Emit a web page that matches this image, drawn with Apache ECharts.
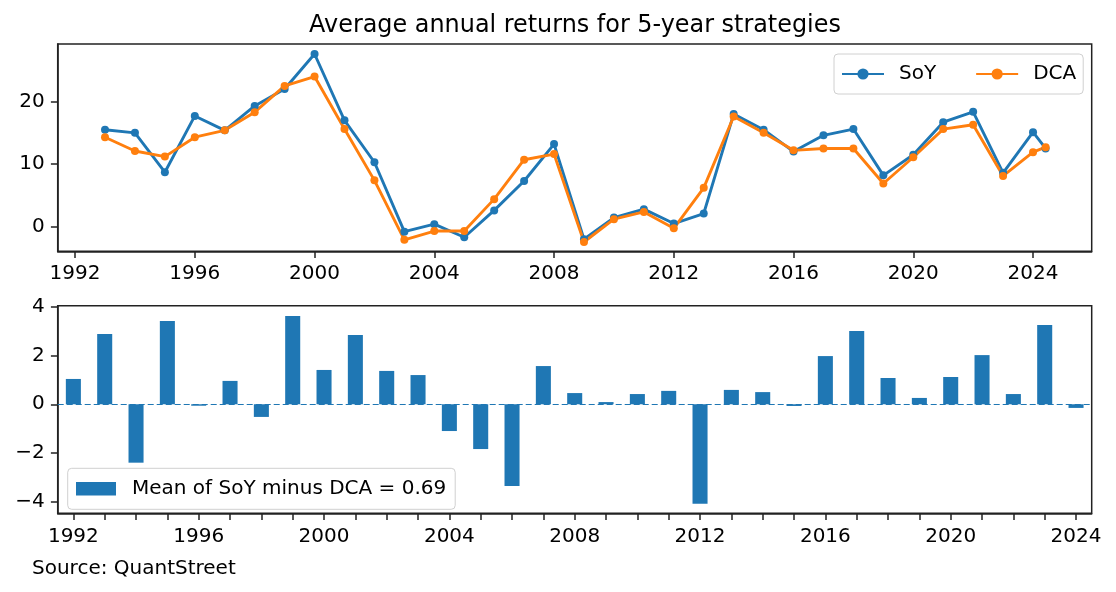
<!DOCTYPE html>
<html>
<head>
<meta charset="utf-8">
<script src="https://cdn.jsdelivr.net/npm/echarts@6/dist/echarts.min.js"></script>
<style>
html,body{margin:0;padding:0;background:#fff;}
#chart{width:1116px;height:592px;}
</style>
</head>
<body>
<div id="chart"></div>
<script>
// ---- data ----
const lineX = [1993,1994,1995,1996,1997,1998,1999,2000,2001,2002,2003,2004,2005,2006,2007,2008,2009,2010,2011,2012,2013,2014,2015,2016,2017,2018,2019,2020,2021,2022,2023,2024,2024.42];
const soyValues = [15.5,15.0,8.7,17.7,15.4,19.3,22.0,27.6,17.0,10.3,-0.8,0.4,-1.7,2.6,7.3,13.2,-2.0,1.45,2.8,0.5,2.1,18.0,15.5,12.0,14.6,15.6,8.2,11.5,16.7,18.35,8.6,15.1,12.5];
const dcaValues = [14.3,12.1,11.2,14.3,15.4,18.3,22.5,24.0,15.6,7.4,-2.1,-0.7,-0.7,4.4,10.7,11.6,-2.45,1.2,2.35,-0.26,6.2,17.6,15.0,12.2,12.5,12.5,6.9,11.1,15.6,16.3,8.1,11.9,12.7];
const barYears = ['1992','1993','1994','1995','1996','1997','1998','1999','2000','2001','2002','2003','2004','2005','2006','2007','2008','2009','2010','2011','2012','2013','2014','2015','2016','2017','2018','2019','2020','2021','2022','2023','2024'];
const diffValues = [1.04,2.89,-2.40,3.42,-0.06,0.96,-0.52,3.63,1.41,2.85,1.37,1.20,-1.10,-1.84,-3.36,1.57,0.46,0.09,0.42,0.55,-4.09,0.59,0.50,-0.07,1.98,3.01,1.08,0.26,1.12,2.02,0.42,3.26,-0.15];
const topXTicks = [1992,1996,2000,2004,2008,2012,2016,2020,2024];
const topYTicks = [0,10,20];
const bottomYTicks = [-4,-2,0,2,4];
const titleText = 'Average annual returns for 5-year strategies';
const seriesNames = ['SoY','DCA'];
const barLegendName = 'Mean of SoY minus DCA = 0.69';
const sourceText = 'Source: QuantStreet';

const FONT = 'DejaVu Sans';
const FS = 20;
const BLUE = '#1f77b4', ORANGE = '#ff7f0e';
const SPINE = '#222222';
const fmtNum = v => (v < 0 ? '\u2212' + Math.abs(v) : String(v));

const chart = echarts.init(document.getElementById('chart'), null, {renderer: 'canvas'});

const axisTextBase = {color: '#000', fontFamily: FONT, fontSize: FS};

const option = {
  animation: false,
  backgroundColor: '#fff',
  textStyle: {fontFamily: FONT},
  title: {
    text: titleText,
    left: 570, top: 9, textAlign: 'center',
    textStyle: {fontFamily: FONT, fontSize: 23.9, fontWeight: 'normal', color: '#000'}
  },
  graphic: [{
    type: 'text', left: 32, top: 559,
    style: {text: sourceText, fill: '#000', font: FS + 'px "DejaVu Sans"'}
  }],
  legend: [
    {
      data: seriesNames,
      left: 834, top: 54,
      orient: 'horizontal',
      itemWidth: 42, itemHeight: 14, itemGap: 39,
      padding: [10, 7, 10, 7],
      borderColor: '#d0d0d0', borderWidth: 1, borderRadius: 4,
      backgroundColor: 'rgba(255,255,255,0.8)',
      textStyle: {fontFamily: FONT, fontSize: FS, color: '#000', padding: [0, 0, 0, 10]}
    },
    {
      data: [barLegendName],
      left: 67.7, top: 468.3,
      itemWidth: 40, itemHeight: 13.5,
      icon: 'rect',
      padding: [10.5, 9, 10.5, 8.3],
      borderColor: '#d0d0d0', borderWidth: 1, borderRadius: 4,
      backgroundColor: 'rgba(255,255,255,0.8)',
      textStyle: {fontFamily: FONT, fontSize: FS, color: '#000', padding: [0, 0, 0, 11]}
    }
  ],
  grid: [
    {left: 57.7, top: 44, width: 1034, height: 207.3, show: true, borderColor: SPINE, borderWidth: 1.5, backgroundColor: 'transparent'},
    {left: 57.7, top: 305.7, width: 1034, height: 207.6, show: true, borderColor: SPINE, borderWidth: 1.5, backgroundColor: 'transparent'}
  ],
  xAxis: [
    {
      gridIndex: 0, type: 'value', min: 1991.42, max: 2025.96,
      splitLine: {show: false},
      axisLine: {show: true, onZero: false, lineStyle: {color: SPINE, width: 1.5}},
      axisTick: {show: true, length: 6.8, lineStyle: {color: SPINE, width: 1.5}, customValues: topXTicks},
      axisLabel: Object.assign({margin: 12, customValues: topXTicks, formatter: v => String(v)}, axisTextBase)
    },
    {
      gridIndex: 1, type: 'category', data: barYears, boundaryGap: true,
      axisLine: {show: true, onZero: false, lineStyle: {color: SPINE, width: 1.5}},
      axisTick: {show: true, length: 6.8, interval: 0, alignWithLabel: true, lineStyle: {color: SPINE, width: 1.5}},
      axisLabel: Object.assign({margin: 13, interval: 3}, axisTextBase),
      splitLine: {show: false}
    }
  ],
  yAxis: [
    {
      gridIndex: 0, type: 'value', min: -3.94, max: 29.2,
      splitLine: {show: false},
      axisLine: {show: true, lineStyle: {color: SPINE, width: 1.5}},
      axisTick: {show: true, length: 6.8, lineStyle: {color: SPINE, width: 1.5}, customValues: topYTicks},
      axisLabel: Object.assign({margin: 13, customValues: topYTicks, formatter: fmtNum}, axisTextBase)
    },
    {
      gridIndex: 1, type: 'value', min: -4.48, max: 4.05,
      splitLine: {show: false},
      axisLine: {show: true, lineStyle: {color: SPINE, width: 1.5}},
      axisTick: {show: true, length: 6.8, lineStyle: {color: SPINE, width: 1.5}, customValues: bottomYTicks},
      axisLabel: Object.assign({margin: 13, customValues: bottomYTicks, formatter: fmtNum}, axisTextBase)
    }
  ],
  series: [
    {
      name: seriesNames[0], type: 'line', xAxisIndex: 0, yAxisIndex: 0,
      data: lineX.map((x, i) => [x, soyValues[i]]),
      symbol: 'circle', symbolSize: 8, showSymbol: true,
      itemStyle: {color: BLUE}, lineStyle: {color: BLUE, width: 2.9}
    },
    {
      name: seriesNames[1], type: 'line', xAxisIndex: 0, yAxisIndex: 0,
      data: lineX.map((x, i) => [x, dcaValues[i]]),
      symbol: 'circle', symbolSize: 8, showSymbol: true,
      itemStyle: {color: ORANGE}, lineStyle: {color: ORANGE, width: 2.9}
    },
    {
      name: barLegendName, type: 'bar', xAxisIndex: 1, yAxisIndex: 1,
      data: diffValues, barWidth: '48%',
      itemStyle: {color: BLUE},
      markLine: {
        silent: true, symbol: 'none', label: {show: false},
        lineStyle: {color: BLUE, width: 1.2, type: [6, 3]},
        data: [{yAxis: 0}]
      }
    }
  ]
};
chart.setOption(option);
</script>
</body>
</html>
